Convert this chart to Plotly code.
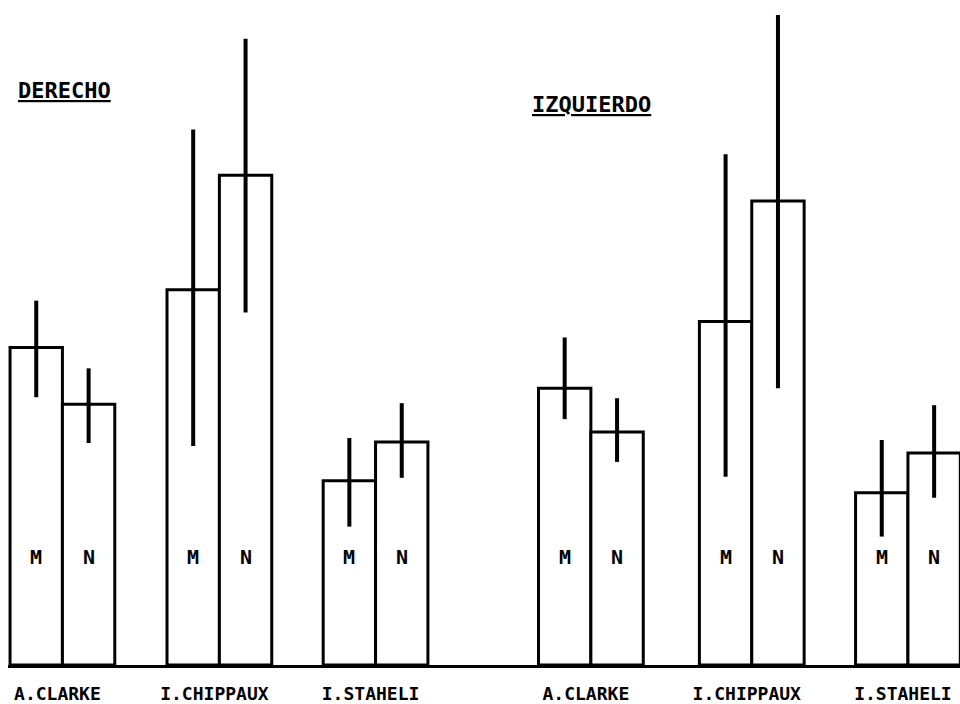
import plotly.graph_objects as go

# ---- data (arbitrary units) ----
groups = ["A.CLARKE", "I.CHIPPAUX", "I.STAHELI", "A.CLARKE", "I.CHIPPAUX", "I.STAHELI"]
sides = ["DERECHO", "IZQUIERDO"]
m_values = [31.9, 37.7, 18.5, 27.8, 34.5, 17.3]
m_err_plus = [4.7, 16.1, 4.3, 5.1, 16.8, 5.3]
m_err_minus = [5.0, 15.7, 4.6, 3.1, 15.6, 4.4]
n_values = [26.2, 49.2, 22.4, 23.4, 46.6, 21.3]
n_err_plus = [3.6, 13.7, 3.9, 3.4, 18.7, 4.8]
n_err_minus = [3.9, 13.8, 3.6, 3.0, 18.8, 4.5]
series_labels = ["M", "N"]

# ---- layout positions ----
group_pos = [0, 0.995, 1.985, 3.35, 4.37, 5.36]
bw = 0.332
m_x = [p - bw / 2 for p in group_pos]
n_x = [p + bw / 2 for p in group_pos]

mono = "DejaVu Sans Mono, monospace"

fig = go.Figure()
for xs, vals, ep, em in [(m_x, m_values, m_err_plus, m_err_minus),
                         (n_x, n_values, n_err_plus, n_err_minus)]:
    fig.add_trace(go.Bar(
        x=xs, y=vals, width=bw,
        marker=dict(color="white", line=dict(color="black", width=3)),
        error_y=dict(type="data", symmetric=False, array=ep, arrayminus=em,
                     color="black", thickness=4, width=0),
        showlegend=False, hoverinfo="skip",
    ))

for xs, lab in [(m_x, series_labels[0]), (n_x, series_labels[1])]:
    for x in xs:
        fig.add_annotation(x=x, y=10.8, xref="x", yref="y", text="<b>%s</b>" % lab,
                           showarrow=False, font=dict(family=mono, size=20, color="black"))

fig.add_annotation(x=0.0085, y=0.8632, xref="paper", yref="paper", xanchor="left", yanchor="middle",
                   text="<b><u>%s</u></b>" % sides[0], showarrow=False,
                   font=dict(family=mono, size=22, color="black"))
fig.add_annotation(x=0.5485, y=0.8430, xref="paper", yref="paper", xanchor="left", yanchor="middle",
                   text="<b><u>%s</u></b>" % sides[1], showarrow=False,
                   font=dict(family=mono, size=22, color="black"))

fig.update_layout(
    width=960, height=704,
    margin=dict(l=8, r=0, t=0, b=33),
    paper_bgcolor="white", plot_bgcolor="white",
    barmode="overlay",
    xaxis=dict(range=[-0.345, 5.69], tickvals=group_pos, ticktext=["<b>%s</b>" % g for g in groups],
               showgrid=False, zeroline=False, showline=True, linecolor="black", linewidth=3,
               ticks="outside", ticklen=10, tickcolor="rgba(0,0,0,0)", ticklabelshift=-5,
               tickfont=dict(family=mono, size=18, color="black")),
    yaxis=dict(range=[0, 66.8], visible=False, showgrid=False, zeroline=False),
)

fig.write_html("out.html", config={"displayModeBar": False},
               post_script="document.body.style.margin='0';document.body.style.overflow='hidden';")
